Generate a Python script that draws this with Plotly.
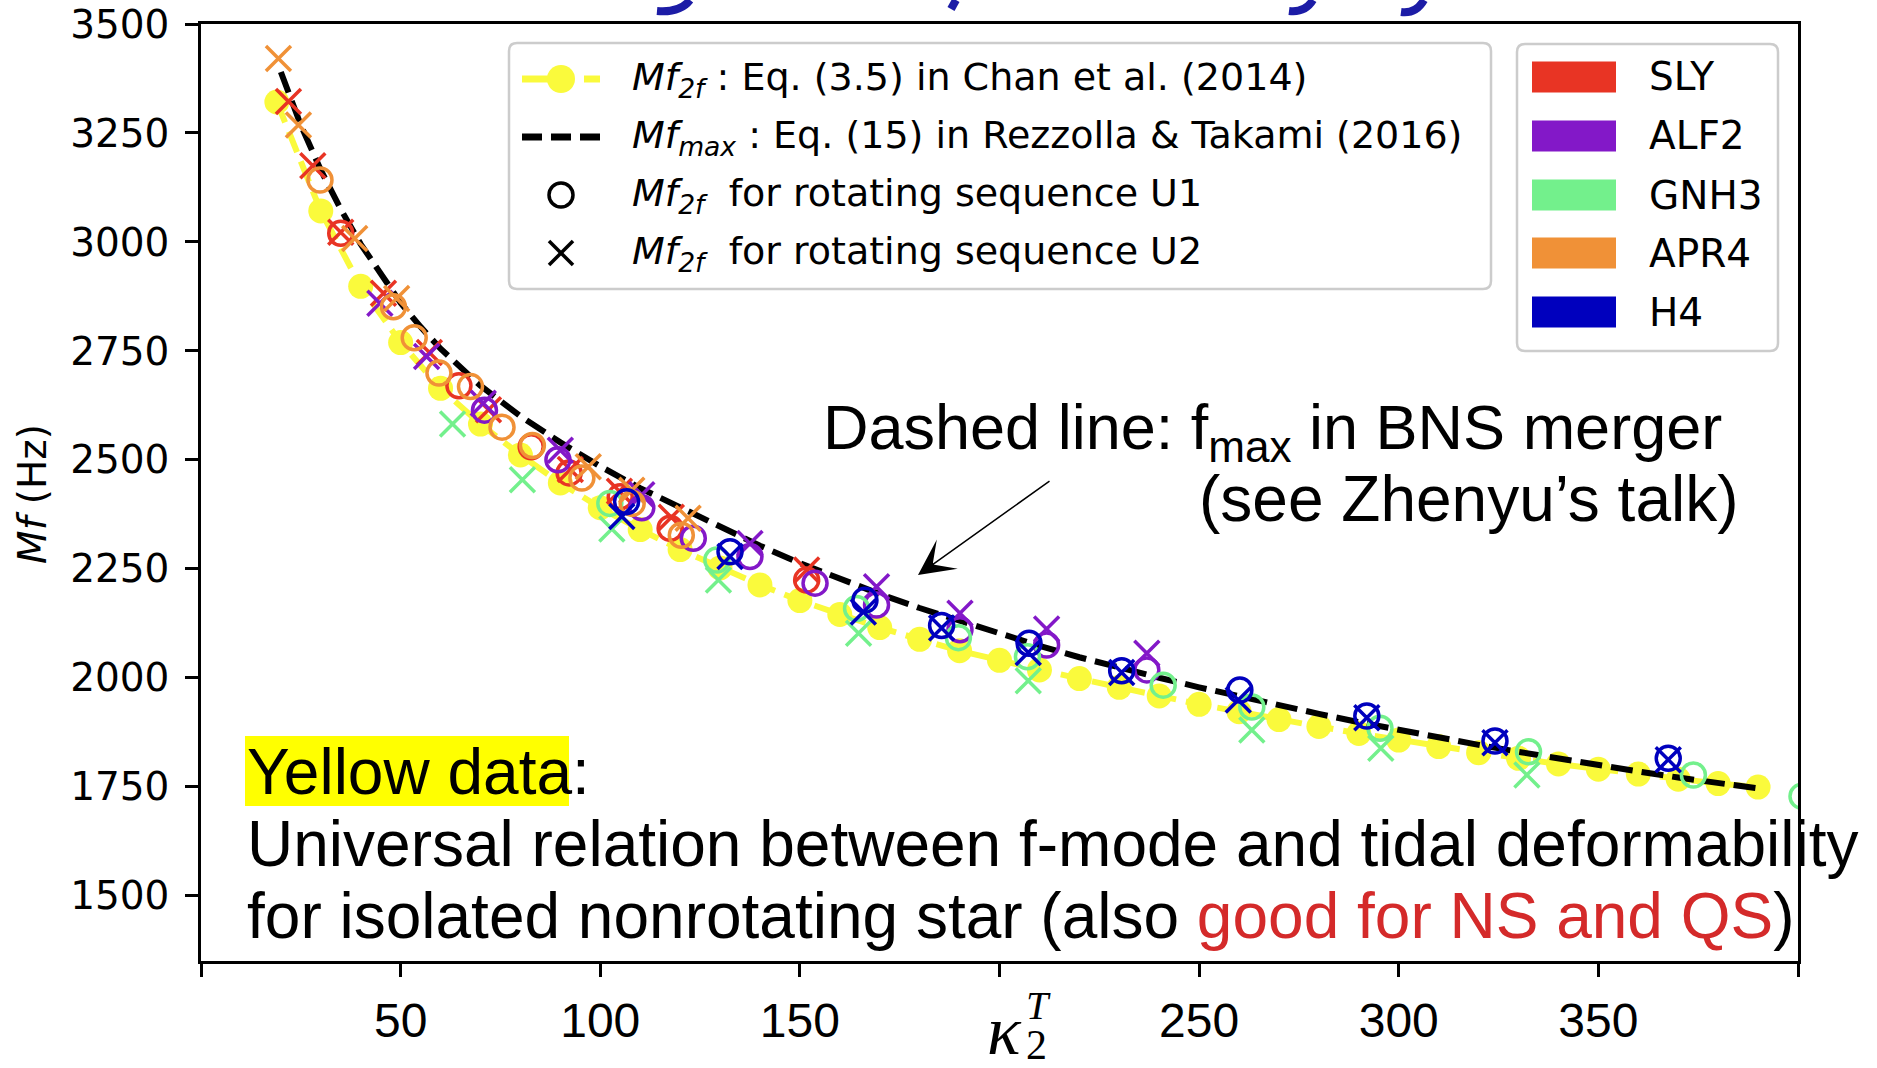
import plotly.graph_objects as go

# ---------------- data ----------------
# Chan et al. (2014) universal relation, yellow dots
chan_kappa = [19, 30, 40, 50, 60, 70, 80, 90, 100, 110, 120, 130, 140, 150, 160, 170, 180, 190,
              200, 210, 220, 230, 240, 250, 260, 270, 280, 290, 300, 310, 320, 330, 340, 350,
              360, 370, 380, 390]
chan_mf = [3321, 3071, 2898, 2769, 2664, 2582, 2511, 2447, 2390, 2340, 2294, 2252, 2213, 2177,
           2145, 2115, 2088, 2062, 2040, 2018, 1998, 1978, 1958, 1939, 1922, 1904, 1888, 1872,
           1857, 1842, 1828, 1815, 1802, 1790, 1779, 1767, 1757, 1749]

# Rezzolla & Takami (2016) f_max, black dashed
rt_kappa = [20, 25, 30, 35, 40, 45, 50, 55, 60, 70, 80, 90, 100, 110, 120, 130, 140, 150, 160,
            170, 180, 190, 200, 210, 220, 230, 240, 250, 260, 270, 280, 290, 300, 310, 320, 330,
            340, 350, 360, 370, 380, 390]
rt_mf = [3390, 3268, 3165, 3075, 2995, 2925, 2860, 2805, 2755, 2670, 2600, 2540, 2485, 2435,
         2390, 2345, 2303, 2263, 2226, 2192, 2160, 2130, 2100, 2073, 2047, 2022, 2000, 1978,
         1957, 1937, 1917, 1898, 1880, 1862, 1846, 1830, 1814, 1799, 1785, 1771, 1758, 1746]

eos_names = ["SLY", "ALF2", "GNH3", "APR4", "H4"]
eos_colors = ["#e83424", "#8318c8", "#73f08c", "#f09137", "#0000be"]

sly_u1_kappa = [35, 64.6, 82.7, 92.2, 105, 117.5, 151.7]
sly_u1_mf = [3020, 2670, 2530, 2470, 2415, 2343, 2224]
sly_u2_kappa = [21.9, 28, 35, 45.7, 57.2, 72, 92.5, 104.8, 117.8, 151.7]
sly_u2_mf = [3322, 3175, 3022, 2882, 2746, 2615, 2478, 2428, 2368, 2247]

alf2_u1_kappa = [71, 89.4, 110.4, 123.3, 137.5, 153.8, 169.2, 190.1, 211.8, 236.9]
alf2_u1_mf = [2614, 2500, 2390, 2320, 2278, 2217, 2167, 2110, 2075, 2018]
alf2_u2_kappa = [44.8, 56.5, 70.7, 90, 110.4, 137.5, 169.2, 190.1, 211.8, 236.9]
alf2_u2_mf = [2859, 2737, 2630, 2522, 2420, 2308, 2209, 2148, 2112, 2056]

gnh3_u1_kappa = [102.4, 129.2, 164.2, 189.7, 207, 241, 263.2, 295.3, 332.5, 373.8, 401]
gnh3_u1_mf = [2400, 2270, 2159, 2092, 2048, 1983, 1933, 1884, 1830, 1777, 1728]
gnh3_u2_kappa = [63, 80.5, 102.9, 129.6, 164.7, 207.2, 263.2, 295.5, 332.1]
gnh3_u2_mf = [2582, 2454, 2341, 2224, 2102, 1993, 1880, 1838, 1777]

apr4_u1_kappa = [29.8, 48.2, 53.4, 59.6, 67.5, 75.4, 83, 95.4, 108, 120.3]
apr4_u1_mf = [3142, 2851, 2780, 2699, 2668, 2575, 2533, 2458, 2400, 2327]
apr4_u2_kappa = [19.4, 24.4, 38.5, 49, 97, 107.9, 122]
apr4_u2_mf = [3421, 3268, 3008, 2870, 2484, 2430, 2366]

h4_u1_kappa = [106.6, 132.5, 166.3, 185.5, 207.4, 230.6, 260.2, 292, 324.1, 367.5]
h4_u1_mf = [2404, 2289, 2178, 2120, 2079, 2016, 1972, 1912, 1855, 1815]
h4_u2_kappa = [105.4, 132.5, 165.9, 185.5, 207.2, 230.6, 259.8, 292, 324.1, 367.5]
h4_u2_mf = [2370, 2278, 2151, 2114, 2058, 2012, 1949, 1908, 1851, 1812]

x_tickvals = [0, 50, 100, 150, 200, 250, 300, 350, 400]
x_ticktext = ["", "50", "100", "150", "", "250", "300", "350", ""]
y_tickvals = [1500, 1750, 2000, 2250, 2500, 2750, 3000, 3250, 3500]

# ---------------- figure geometry ----------------
W, H = 1877, 1068
L, R, T, B = 201, 79, 24, 107
PW, PH = W - L - R, H - T - B


def px(x):
    return (x - L) / PW


def py(y):
    return (H - B - y) / PH


YELLOW = "rgb(250,250,60)"
MPL = "DejaVu Sans"
SLIDE = "Liberation Sans"

fig = go.Figure()

fig.add_trace(go.Scatter(
    x=chan_kappa, y=chan_mf, mode="lines+markers",
    line=dict(color=YELLOW, width=6, dash="22px,10px"),
    marker=dict(color=YELLOW, size=25),
    showlegend=False, hoverinfo="skip"))

fig.add_trace(go.Scatter(
    x=rt_kappa, y=rt_mf, mode="lines",
    line=dict(color="black", width=6, dash="22px,9px"),
    showlegend=False, hoverinfo="skip"))

series = [
    (sly_u1_kappa, sly_u1_mf, sly_u2_kappa, sly_u2_mf),
    (alf2_u1_kappa, alf2_u1_mf, alf2_u2_kappa, alf2_u2_mf),
    (gnh3_u1_kappa, gnh3_u1_mf, gnh3_u2_kappa, gnh3_u2_mf),
    (apr4_u1_kappa, apr4_u1_mf, apr4_u2_kappa, apr4_u2_mf),
    (h4_u1_kappa, h4_u1_mf, h4_u2_kappa, h4_u2_mf),
]
for name, col, (k1, m1, k2, m2) in zip(eos_names, eos_colors, series):
    fig.add_trace(go.Scatter(
        x=k1, y=m1, mode="markers", name=name + " U1",
        marker=dict(symbol="circle-open", size=24, color=col, line=dict(width=3.5, color=col)),
        showlegend=False))
    fig.add_trace(go.Scatter(
        x=k2, y=m2, mode="markers", name=name + " U2",
        marker=dict(symbol="x-thin-open", size=25, color=col, line=dict(width=3.5, color=col)),
        showlegend=False))

shapes = []
annotations = []


def rounded_box(x0, y0, x1, y1, r=8):
    p = [
        f"M{px(x0 + r)},{py(y0)}", f"L{px(x1 - r)},{py(y0)}", f"Q{px(x1)},{py(y0)} {px(x1)},{py(y0 + r)}",
        f"L{px(x1)},{py(y1 - r)}", f"Q{px(x1)},{py(y1)} {px(x1 - r)},{py(y1)}",
        f"L{px(x0 + r)},{py(y1)}", f"Q{px(x0)},{py(y1)} {px(x0)},{py(y1 - r)}",
        f"L{px(x0)},{py(y0 + r)}", f"Q{px(x0)},{py(y0)} {px(x0 + r)},{py(y0)}", "Z"]
    return dict(type="path", xref="paper", yref="paper", path=" ".join(p),
                line=dict(color="#cccccc", width=2.5), fillcolor="white", layer="above")


# ---- legend 1 (formulas / markers) ----
shapes.append(rounded_box(509, 43, 1491, 289))
rows1 = [79, 137, 195, 253]
sym_x0, sym_x1, sym_c = 522, 600, 561
# yellow "-o-"
shapes.append(dict(type="line", xref="paper", yref="paper", x0=px(sym_x0), x1=px(548), y0=py(rows1[0]), y1=py(rows1[0]),
                   line=dict(color=YELLOW, width=7), layer="above"))
shapes.append(dict(type="line", xref="paper", yref="paper", x0=px(584), x1=px(sym_x1), y0=py(rows1[0]), y1=py(rows1[0]),
                   line=dict(color=YELLOW, width=7), layer="above"))
shapes.append(dict(type="circle", xref="paper", yref="paper", x0=px(sym_c - 14), x1=px(sym_c + 14),
                   y0=py(rows1[0] - 14), y1=py(rows1[0] + 14), fillcolor=YELLOW, line=dict(width=0), layer="above"))
# black dashes
shapes.append(dict(type="line", xref="paper", yref="paper", x0=px(sym_x0), x1=px(sym_x1), y0=py(rows1[1]), y1=py(rows1[1]),
                   line=dict(color="black", width=7, dash="20px,9px"), layer="above"))
# open circle
shapes.append(dict(type="circle", xref="paper", yref="paper", x0=px(sym_c - 12), x1=px(sym_c + 12),
                   y0=py(rows1[2] - 12), y1=py(rows1[2] + 12), line=dict(color="black", width=3.5), layer="above"))
# x
for a, b in [(-12, -12), (-12, 12)]:
    shapes.append(dict(type="line", xref="paper", yref="paper", x0=px(sym_c + a), x1=px(sym_c - a),
                       y0=py(rows1[3] + b), y1=py(rows1[3] - b), line=dict(color="black", width=3.5), layer="above"))

leg1_text = [
    "<i>Mf</i><sub><i>2f</i></sub> : Eq. (3.5) in Chan et al. (2014)",
    "<i>Mf</i><sub><i>max</i></sub> : Eq. (15) in Rezzolla &amp; Takami (2016)",
    "<i>Mf</i><sub><i>2f</i></sub>\u00a0 for rotating sequence U1",
    "<i>Mf</i><sub><i>2f</i></sub>\u00a0 for rotating sequence U2",
]
for t, yv in zip(leg1_text, rows1):
    annotations.append(dict(xref="paper", yref="paper", x=px(630), y=py(yv), xanchor="left", yanchor="middle",
                            text=t, showarrow=False, font=dict(family=MPL, size=38, color="black")))

# ---- legend 2 (EOS colours) ----
shapes.append(rounded_box(1517, 44, 1778, 351))
rows2 = [77, 136, 195, 253, 312]
for name, col, yv in zip(eos_names, eos_colors, rows2):
    shapes.append(dict(type="rect", xref="paper", yref="paper", x0=px(1532), x1=px(1616),
                       y0=py(yv - 15.5), y1=py(yv + 15.5), fillcolor=col, line=dict(width=0), layer="above"))
    annotations.append(dict(xref="paper", yref="paper", x=px(1647), y=py(yv), xanchor="left", yanchor="middle",
                            text=name, showarrow=False, font=dict(family=MPL, size=39, color="black")))

# ---- slide overlay text ----
annotations.append(dict(xref="paper", yref="paper", x=px(821), y=py(431), xanchor="left", yanchor="middle",
                        text="Dashed line: f<sub>max</sub> in BNS merger", showarrow=False,
                        font=dict(family=SLIDE, size=63, color="black")))
annotations.append(dict(xref="paper", yref="paper", x=px(1197), y=py(499), xanchor="left", yanchor="middle",
                        text="(see Zhenyu\u2019s talk)", showarrow=False,
                        font=dict(family=SLIDE, size=64, color="black")))
annotations.append(dict(xref="paper", yref="paper", x=px(918), y=py(575), showarrow=True,
                        axref="pixel", ayref="pixel", ax=133, ay=-95, arrowhead=3, arrowsize=4,
                        arrowwidth=1.5, arrowcolor="black", standoff=0, text=""))

shapes.append(dict(type="rect", xref="paper", yref="paper", x0=px(245), x1=px(569), y0=py(806), y1=py(736),
                   fillcolor="#ffff00", line=dict(width=0), layer="above"))
annotations.append(dict(xref="paper", yref="paper", x=px(245), y=py(772), xanchor="left", yanchor="middle",
                        text="Yellow data:", showarrow=False, font=dict(family=SLIDE, size=64, color="black")))
annotations.append(dict(xref="paper", yref="paper", x=px(245), y=py(844), xanchor="left", yanchor="middle",
                        text="Universal relation between f-mode and tidal deformability", showarrow=False,
                        font=dict(family=SLIDE, size=64, color="black")))
annotations.append(dict(xref="paper", yref="paper", x=px(245), y=py(916), xanchor="left", yanchor="middle",
                        text="for isolated nonrotating star (also <span style='color:#d42a2a'>good for NS and QS</span>)",
                        showarrow=False, font=dict(family=SLIDE, size=64, color="black")))

# ---- fragments of the (cut-off) slide heading visible at the very top ----
for pth in ["M690,0 Q680,13 657,11", "M956,0 L951,9", "M1313,0 Q1305,13 1289,11", "M1424,0 Q1416,14 1401,12"]:
    segs = []
    for tok in pth.replace("M", " M ").replace("Q", " Q ").replace("L", " L ").split():
        if tok in ("M", "Q", "L"):
            segs.append(tok)
        else:
            a, b = tok.split(",")
            segs.append(f"{px(float(a))},{py(float(b))}")
    path = ""
    for s in segs:
        path += s if s in ("M", "Q", "L") else s + " "
    shapes.append(dict(type="path", xref="paper", yref="paper", path=path.strip(),
                       line=dict(color="#1c1ca6", width=8), layer="above"))

# ---- axis labels ----
annotations.append(dict(xref="paper", yref="paper", x=px(32), y=py(494), xanchor="center", yanchor="middle",
                        text="<i>Mf</i> (Hz)", textangle=-90, showarrow=False,
                        font=dict(family=MPL, size=39, color="black")))
annotations.append(dict(xref="paper", yref="paper", x=px(1004), y=py(1030), xanchor="center", yanchor="middle",
                        text="<i>\u03ba</i>", showarrow=False,
                        font=dict(family="Liberation Serif", size=70, color="black")))
annotations.append(dict(xref="paper", yref="paper", x=px(1038), y=py(1005), xanchor="center", yanchor="middle",
                        text="<i>T</i>", showarrow=False,
                        font=dict(family="Liberation Serif", size=40, color="black")))
annotations.append(dict(xref="paper", yref="paper", x=px(1036), y=py(1045), xanchor="center", yanchor="middle",
                        text="2", showarrow=False,
                        font=dict(family="Liberation Serif", size=42, color="black")))

fig.update_layout(
    width=W, height=H,
    margin=dict(l=L, r=R, t=T, b=B, pad=0, autoexpand=False),
    paper_bgcolor="white", plot_bgcolor="white",
    font=dict(family=MPL, color="black"),
    showlegend=False,
    shapes=shapes, annotations=annotations,
    xaxis=dict(range=[0, 400], tickvals=x_tickvals, ticktext=x_ticktext, ticks="outside",
               ticklen=13, tickwidth=2.5, tickcolor="black", showgrid=False, zeroline=False,
               showline=True, linecolor="black", linewidth=2.5, mirror=True, automargin=False,
               tickfont=dict(family=SLIDE, size=48, color="black"), ticklabelstandoff=3),
    yaxis=dict(range=[1350, 3500], tickvals=y_tickvals, ticks="outside",
               ticklen=13, tickwidth=2.5, tickcolor="black", showgrid=False, zeroline=False,
               showline=True, linecolor="black", linewidth=2.5, mirror=True, automargin=False,
               tickfont=dict(family=MPL, size=39, color="black"), ticklabelstandoff=8),
)

fig.write_html("out.html")
